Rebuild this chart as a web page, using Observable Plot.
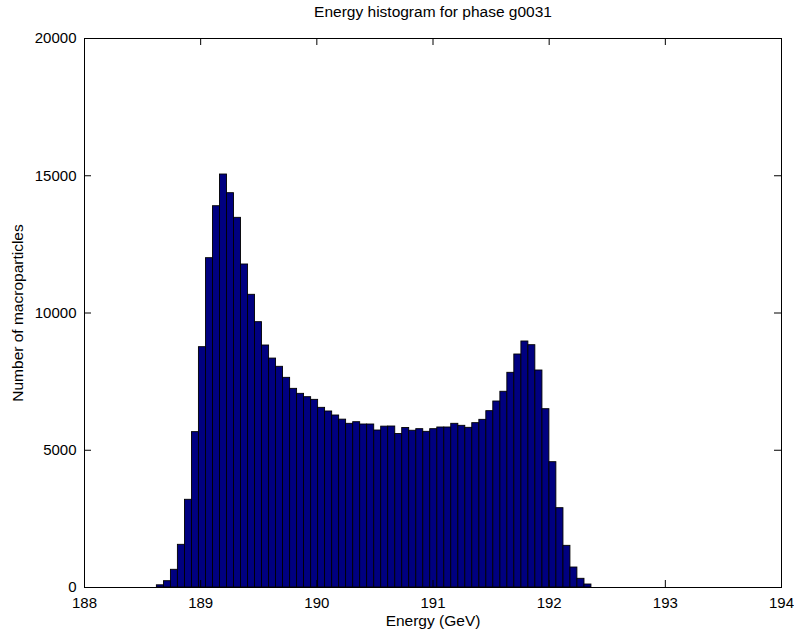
<!DOCTYPE html>
<html>
<head>
<meta charset="utf-8">
<script src="https://cdn.jsdelivr.net/npm/d3@7"></script>
<script src="https://cdn.jsdelivr.net/npm/@observablehq/plot@0.6"></script>
<style>
  html, body { margin: 0; padding: 0; background: #fff; }
</style>
</head>
<body>
<div id="chart"></div>
<script>
const titleText = "Energy histogram for phase g0031";
const xLabelText = "Energy (GeV)";
const yLabelText = "Number of macroparticles";

const xTicks = [188, 189, 190, 191, 192, 193, 194];
const yTicks = [0, 5000, 10000, 15000, 20000];

// histogram bin edges (GeV), 63 edges for 62 bins
const binEdges = [
  188.623, 188.684, 188.744, 188.804, 188.865, 188.925, 188.985, 189.046, 189.106, 189.166,
  189.227, 189.287, 189.347, 189.408, 189.468, 189.528, 189.589, 189.649, 189.709, 189.770,
  189.830, 189.890, 189.951, 190.011, 190.071, 190.132, 190.192, 190.252, 190.313, 190.373,
  190.433, 190.494, 190.554, 190.614, 190.675, 190.735, 190.795, 190.856, 190.916, 190.976,
  191.037, 191.097, 191.157, 191.218, 191.278, 191.338, 191.399, 191.459, 191.519, 191.580,
  191.640, 191.700, 191.761, 191.821, 191.881, 191.942, 192.002, 192.062, 192.123, 192.183,
  192.243, 192.304, 192.364
];

// counts per bin
const counts = [
  80, 230, 645, 1555, 3195, 5660, 8755, 11997, 13890, 15045,
  14365, 13467, 11767, 10663, 9666, 8816, 8340, 8040, 7638, 7237,
  7055, 6933, 6836, 6545, 6412, 6266, 6115, 5963, 6022, 5938,
  5938, 5719, 5860, 5865, 5590, 5810, 5710, 5768, 5671, 5768,
  5829, 5829, 5963, 5890, 5817, 5987, 6108, 6424, 6776, 7130,
  7821, 8488, 8962, 8827, 7905, 6496, 4565, 2890, 1518, 728,
  317, 109
];

const bins = counts.map((c, i) => ({x1: binEdges[i], x2: binEdges[i + 1], count: c}));

const W = 794, H = 632;
const mL = 84, mR = 13, mT = 38, mB = 45;
const frameW = W - mL - mR, frameH = H - mT - mB;
const tickLen = 7;

const chart = Plot.plot({
  width: W,
  height: H,
  marginLeft: mL,
  marginRight: mR,
  marginTop: mT,
  marginBottom: mB,
  style: {
    fontFamily: "'Liberation Sans', Arial, Helvetica, sans-serif",
    fontSize: "15px",
    color: "#000",
    background: "#fff",
    overflow: "visible"
  },
  x: {domain: [188, 194], ticks: xTicks, tickSize: 0, tickPadding: 10, label: null, tickFormat: d => String(d)},
  y: {domain: [0, 20000], ticks: yTicks, tickSize: 0, tickPadding: 8, label: null, tickFormat: d => String(d)},
  marks: [
    Plot.rectY(bins, {x1: "x1", x2: "x2", y: "count", fill: "#000080", stroke: "#000", strokeWidth: 0.9}),
    Plot.frame({stroke: "#000", strokeWidth: 1}),
    // inward ticks: bottom and top
    Plot.tickX(xTicks, {x: d => d, insetTop: frameH - tickLen, stroke: "#000"}),
    Plot.tickX(xTicks, {x: d => d, insetBottom: frameH - tickLen, stroke: "#000"}),
    // inward ticks: left and right
    Plot.tickY(yTicks, {y: d => d, insetRight: frameW - tickLen, stroke: "#000"}),
    Plot.tickY(yTicks, {y: d => d, insetLeft: frameW - tickLen, stroke: "#000"}),
    Plot.text([titleText], {text: d => d, frameAnchor: "top", lineAnchor: "middle", dy: -26, fontSize: 15.5, fill: "#000"}),
    Plot.text([xLabelText], {text: d => d, frameAnchor: "bottom", lineAnchor: "middle", dy: 34, fontSize: 15.5, fill: "#000"}),
    Plot.text([yLabelText], {text: d => d, frameAnchor: "left", textAnchor: "middle", lineAnchor: "middle", dx: -66, rotate: -90, fontSize: 15.5, fill: "#000"})
  ]
});

document.getElementById("chart").appendChild(chart);
</script>
</body>
</html>
